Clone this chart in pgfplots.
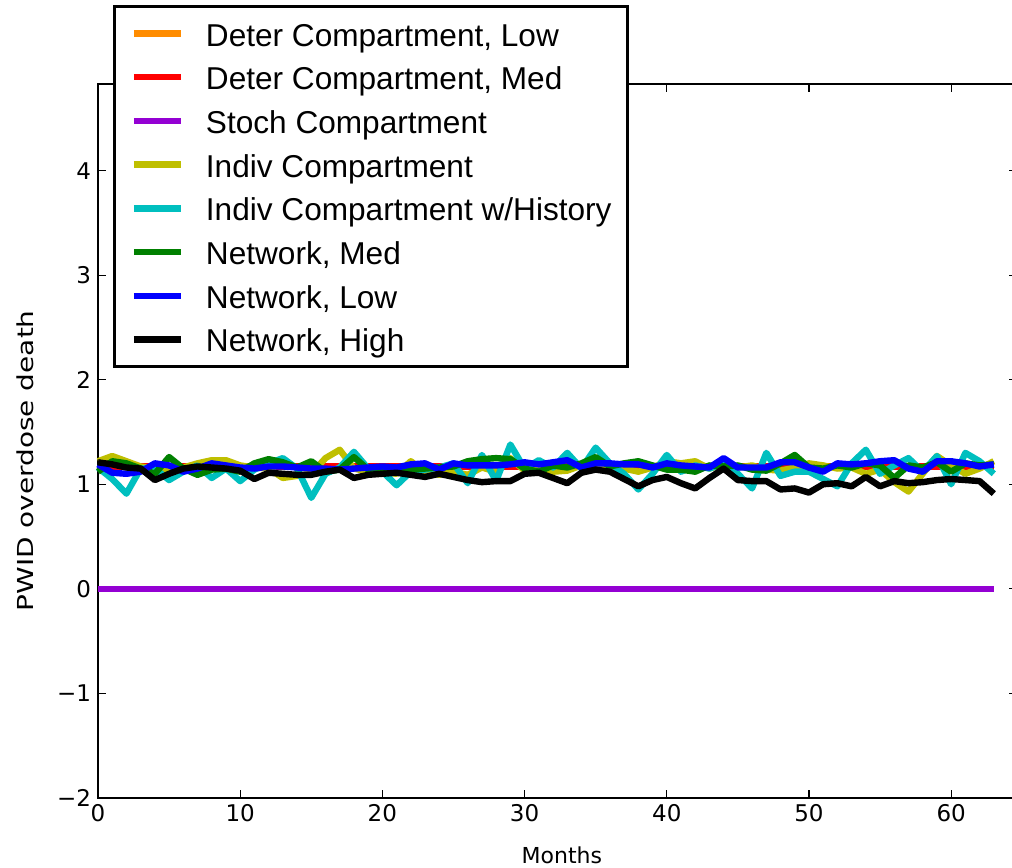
\documentclass[border=0pt]{standalone}
\usepackage{pgfplots}
\usepackage{pgfplotstable}
\pgfplotsset{compat=1.18}
\usepackage{fontspec}
\setmainfont{DejaVu Sans}
\newfontfamily\legendfont{Liberation Sans}

\definecolor{cOrange}{RGB}{255,140,0}
\definecolor{cRed}{RGB}{255,0,0}
\definecolor{cPurple}{RGB}{148,0,211}
\definecolor{cYellow}{RGB}{191,191,0}
\definecolor{cCyan}{RGB}{0,191,191}
\definecolor{cGreen}{RGB}{0,128,0}
\definecolor{cBlue}{RGB}{0,0,255}

% month, deter low, deter med, stoch, indiv, indiv w/history, net med, net low, net high
\pgfplotstableread{
m  dlow dmed stoch ind  hist net_med net_low net_high
0  1.17 1.17 0 1.22 1.16 1.12 1.19 1.21
1  1.17 1.17 0 1.27 1.05 1.22 1.11 1.19
2  1.17 1.17 0 1.22 0.91 1.20 1.10 1.16
3  1.17 1.17 0 1.17 1.15 1.15 1.12 1.15
4  1.17 1.17 0 1.15 1.15 1.10 1.20 1.04
5  1.17 1.17 0 1.13 1.04 1.26 1.18 1.10
6  1.17 1.17 0 1.16 1.12 1.15 1.12 1.15
7  1.17 1.17 0 1.20 1.18 1.09 1.15 1.17
8  1.17 1.17 0 1.23 1.06 1.14 1.20 1.16
9  1.17 1.17 0 1.23 1.15 1.15 1.18 1.15
10 1.17 1.17 0 1.18 1.03 1.12 1.16 1.13
11 1.17 1.17 0 1.16 1.14 1.20 1.15 1.05
12 1.17 1.17 0 1.15 1.20 1.24 1.17 1.11
13 1.17 1.17 0 1.06 1.25 1.21 1.17 1.10
14 1.17 1.17 0 1.08 1.15 1.16 1.16 1.09
15 1.17 1.17 0 1.10 0.87 1.22 1.15 1.09
16 1.17 1.17 0 1.25 1.10 1.12 1.15 1.12
17 1.17 1.17 0 1.33 1.16 1.14 1.14 1.14
18 1.17 1.17 0 1.15 1.31 1.26 1.15 1.06
19 1.17 1.17 0 1.12 1.15 1.14 1.16 1.09
20 1.17 1.17 0 1.12 1.12 1.15 1.17 1.10
21 1.17 1.17 0 1.10 0.99 1.12 1.16 1.11
22 1.17 1.17 0 1.22 1.12 1.14 1.19 1.09
23 1.17 1.17 0 1.12 1.14 1.15 1.20 1.07
24 1.17 1.17 0 1.09 1.16 1.16 1.14 1.10
25 1.17 1.17 0 1.12 1.20 1.17 1.20 1.07
26 1.17 1.17 0 1.09 1.01 1.22 1.18 1.04
27 1.17 1.17 0 1.16 1.28 1.24 1.18 1.02
28 1.17 1.17 0 1.12 1.03 1.25 1.18 1.03
29 1.17 1.17 0 1.25 1.38 1.24 1.19 1.03
30 1.17 1.17 0 1.13 1.15 1.15 1.21 1.10
31 1.17 1.17 0 1.15 1.23 1.12 1.19 1.11
32 1.17 1.17 0 1.12 1.16 1.18 1.21 1.06
33 1.17 1.17 0 1.13 1.30 1.16 1.23 1.01
34 1.17 1.17 0 1.18 1.15 1.20 1.16 1.11
35 1.17 1.17 0 1.14 1.35 1.26 1.20 1.14
36 1.17 1.17 0 1.17 1.20 1.17 1.20 1.12
37 1.17 1.17 0 1.15 1.10 1.20 1.19 1.05
38 1.17 1.17 0 1.12 0.95 1.22 1.19 0.98
39 1.17 1.17 0 1.16 1.10 1.18 1.16 1.04
40 1.17 1.17 0 1.22 1.28 1.14 1.20 1.07
41 1.17 1.17 0 1.20 1.12 1.14 1.18 1.01
42 1.17 1.17 0 1.22 1.18 1.12 1.17 0.96
43 1.17 1.17 0 1.15 1.15 1.18 1.16 1.06
44 1.17 1.17 0 1.19 1.20 1.17 1.25 1.15
45 1.17 1.17 0 1.16 1.10 1.18 1.16 1.04
46 1.17 1.17 0 1.18 0.96 1.14 1.16 1.03
47 1.17 1.17 0 1.14 1.30 1.13 1.16 1.03
48 1.17 1.17 0 1.13 1.08 1.20 1.21 0.95
49 1.17 1.17 0 1.16 1.12 1.28 1.21 0.96
50 1.17 1.17 0 1.20 1.12 1.16 1.16 0.92
51 1.17 1.17 0 1.18 1.05 1.15 1.12 1.00
52 1.17 1.17 0 1.15 0.98 1.18 1.20 1.01
53 1.17 1.17 0 1.16 1.20 1.16 1.19 0.98
54 1.17 1.17 0 1.10 1.33 1.20 1.20 1.07
55 1.17 1.17 0 1.14 1.10 1.18 1.22 0.98
56 1.17 1.17 0 1.02 1.18 1.06 1.23 1.03
57 1.17 1.17 0 0.93 1.25 1.18 1.15 1.01
58 1.17 1.17 0 1.10 1.12 1.16 1.12 1.02
59 1.17 1.17 0 1.27 1.27 1.21 1.22 1.04
60 1.17 1.17 0 1.18 1.00 1.12 1.22 1.05
61 1.17 1.17 0 1.10 1.30 1.20 1.20 1.04
62 1.17 1.17 0 1.15 1.22 1.18 1.17 1.03
63 1.17 1.17 0 1.22 1.10 1.19 1.19 0.91
}\datatable

\begin{document}
\begin{tikzpicture}
\begin{axis}[
    scale only axis,
    width=459.3pt,
    height=356.9pt,
    xmin=0, xmax=64.6,
    ymin=-2, ymax=4.83,
    xtick={0,10,20,30,40,50,60},
    xticklabels={0,10,20,30,40,50,60},
    ytick={-2,-1,0,1,2,3,4},
    yticklabels={−2,−1,0,1,2,3,4},
    tick align=inside,
    major tick length=4pt,
    tick style={black, line width=0.6pt},
    axis line style={black, line width=0.8pt},
    ticklabel style={font=\fontsize{11.5}{13}\selectfont},
    xlabel={Months},
    ylabel={\scalebox{1.27}[1]{PWID overdose death}},
    label style={font=\fontsize{11}{13}\selectfont},
    xlabel style={at={(axis description cs:0.505,-0.08)}, anchor=center},
    ylabel style={at={(axis description cs:-0.0787,0.472)}, anchor=center, rotate=0},
    clip=false,
    every axis plot/.append style={line width=3.2pt, line join=round},
    legend cell align=left,
    legend image code/.code={\draw[#1] (0pt,0pt) -- (23.5pt,0pt);},
    legend style={
        at={(axis description cs:0.0164,1.1106)}, anchor=north west,
        draw=black, line width=1.5pt, fill=white,
        inner xsep=8pt, inner ysep=6.75pt,
        font=\legendfont\fontsize{15.8}{18}\selectfont,
        row sep=8.35pt, column sep=11pt,
        nodes={inner xsep=0pt, inner ysep=0pt, text height=13pt, text depth=0.5pt},
    },
]
\addplot[cOrange] table[x=m, y=dlow] {\datatable};
\addplot[cRed] table[x=m, y=dmed] {\datatable};
\addplot[cPurple] table[x=m, y=stoch] {\datatable};
\addplot[cYellow] table[x=m, y=ind] {\datatable};
\addplot[cCyan] table[x=m, y=hist] {\datatable};
\addplot[cGreen] table[x=m, y=net_med] {\datatable};
\addplot[cBlue] table[x=m, y=net_low] {\datatable};
\addplot[black] table[x=m, y=net_high] {\datatable};
\legend{{Deter Compartment, Low}, {Deter Compartment, Med}, {Stoch Compartment},
    {Indiv Compartment}, {Indiv Compartment w/History}, {Network, Med},
    {Network, Low}, {Network, High}}
\coordinate (sw) at (rel axis cs:0,0);
\coordinate (ne) at (axis cs:64.28,4.83);
\end{axis}
\pgfresetboundingbox
\path[use as bounding box] ([shift={(-49pt,-35pt)}]sw) rectangle ([shift={(0pt,42pt)}]ne);
\end{tikzpicture}
\end{document}
